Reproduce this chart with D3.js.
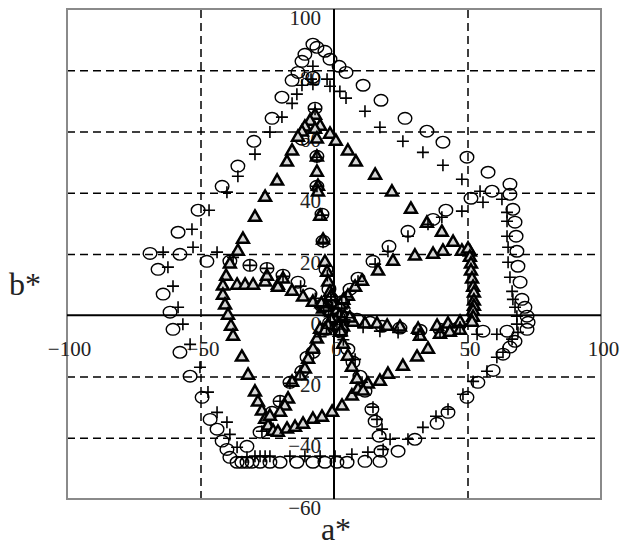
<!DOCTYPE html>
<html>
<head>
<meta charset="utf-8">
<script src="https://cdn.jsdelivr.net/npm/d3@7"></script>
<style>
  html, body { margin: 0; padding: 0; background: #fff; }
  svg { display: block; }
</style>
</head>
<body>
<svg id="chart" width="622" height="550"></svg>
<script>
// a*, b* points
const circleData = [
  // outer boundary
  [-7.9, 88.5], [-6.4, 87.5], [-3.4, 86.2], [-10.9, 85.2], [-1.5, 83.6], [-12.0, 82.9], [1.9, 81.3], [4.5, 79.3],
  [-13.5, 79.3], [-15.7, 76.7], [-7.9, 77.7], [10.9, 75.1], [-19.5, 71.2], [17.6, 70.2], [-23.2, 64.3], [26.6, 64.3],
  [-30.0, 56.8], [34.8, 60.1], [-36.0, 48.7], [40.8, 56.5], [-41.9, 42.1], [49.8, 51.6], [-50.9, 34.3], [57.7, 46.7],
  [-58.4, 27.1], [65.9, 42.8], [-68.9, 20.2], [-57.7, 19.9], [-47.6, 17.6], [-65.9, 15.0], [-64.0, 6.9], [-61.4, 1.0],
  [-60.3, -4.6], [-57.7, -12.1], [-53.9, -19.9], [-49.4, -26.8], [-46.4, -34.0], [-43.8, -37.2], [-41.9, -41.1],
  [-40.1, -43.8], [-39.0, -46.4], [-36.3, -48.0], [-34.5, -48.0], [-32.6, -48.0], [-30.7, -48.0], [-27.7, -48.0],
  [-24.0, -48.0], [-20.2, -48.0], [-13.9, -48.0], [-7.9, -48.0], [-3.4, -48.0], [1.1, -48.0], [4.9, -48.0],
  [11.6, -47.7], [17.2, -47.7], [17.6, -44.4], [24.0, -44.4], [30.3, -40.5], [38.6, -35.3], [42.7, -31.7],
  [49.8, -26.8], [53.9, -21.9], [59.6, -18.0], [63.3, -12.7], [65.9, -10.4], [67.8, -8.5], [64.8, -5.2],
  [72.3, -4.6], [72.7, -2.3], [72.3, -0.3], [71.5, 2.6], [70.4, 5.2], [69.7, 10.8], [68.9, 16.0], [68.5, 20.9],
  [68.2, 25.8], [67.8, 30.4], [67.0, 34.6], [65.9, 39.5], [59.2, 40.5], [55.8, -5.2],
  // hue lines
  [-7.1, 67.6], [-12.0, 57.5], [-6.4, 51.9], [-6.4, 42.1], [-4.5, 33.0], [-4.1, 24.2], [-3.0, 15.0], [-1.9, 8.5],
  [-39.0, 17.7], [-31.5, 16.3], [-25.1, 15.3], [-19.1, 13.1], [-13.5, 10.8], [-9.0, 6.9], [-4.5, 3.0],
  [6.0, 8.5], [9.0, 12.1], [14.6, 17.6], [20.6, 22.5], [27.7, 27.4], [37.1, 31.3], [41.9, 34.3], [51.3, 38.2],
  [3.5, -0.5], [8.6, -1.3], [13.5, -2.3], [18.0, -3.6], [24.7, -4.2], [32.2, -4.9], [39.7, -4.6], [46.4, -4.2],
  [2.5, -5.5], [5.2, -11.1], [7.1, -15.3], [9.7, -19.9], [11.6, -24.8], [14.2, -30.7], [15.4, -34.6], [16.9, -39.5],
  [-3.5, -4.5], [-7.9, -12.1], [-10.1, -13.7], [-12.0, -18.3], [-16.5, -21.9], [-20.2, -28.1], [-23.2, -31.7],
  [-27.7, -38.2], [-32.6, -42.8],
  // near the origin
  [-0.6, 3.0], [-1.1, 5.5], [-2.3, 1.9], [-4.3, 3.4], [1.7, 2.5], [3.2, 4.5], [3.0, -0.5], [5.4, -0.8],
  [1.3, -2.7], [2.3, -5.0], [-1.7, -2.5], [-3.0, -4.6]
];

const plusData = [
  [-7.9, 81.3], [-8.6, 77.1], [-12.0, 75.1], [-7.9, 75.4], [-2.6, 77.1], [-1.5, 74.8], [2.2, 73.1], [4.5, 70.9],
  [-13.9, 72.2], [-15.7, 69.2], [11.6, 66.6], [-19.5, 64.7], [17.2, 61.4], [-24.0, 59.8], [25.8, 56.8],
  [-29.6, 52.6], [33.3, 53.2], [-36.0, 45.4], [40.8, 49.0], [-40.1, 40.2], [47.9, 44.4], [-46.8, 34.3],
  [54.7, 40.5], [-53.2, 28.1], [55.8, 36.9], [-64.0, 20.6], [-52.8, 22.2], [-43.8, 20.6], [-62.2, 15.7],
  [-60.3, 9.5], [-58.4, 2.6], [-56.6, -2.9], [-53.9, -9.5], [-50.2, -17.0], [-47.2, -25.1], [-43.8, -31.7],
  [-40.1, -34.9], [-39.0, -38.9], [-36.3, -43.1], [-32.6, -46.4], [-29.6, -46.0], [-27.7, -46.0], [-25.8, -46.0],
  [-24.0, -46.0], [-16.5, -46.0], [-10.9, -46.0], [-5.2, -46.0], [0.4, -46.0], [6.7, -45.4], [12.7, -44.7],
  [18.4, -43.8], [21.0, -40.5], [27.7, -40.5], [33.3, -36.6], [38.2, -33.0], [42.7, -30.7], [48.3, -25.8],
  [52.1, -21.6], [57.3, -18.3], [61.0, -13.7], [63.3, -12.1], [66.7, -7.8], [61.0, -6.2], [53.6, -6.2],
  [68.9, -5.6], [68.5, -2.9], [68.5, -0.3], [67.8, 2.6], [67.0, 5.2], [66.7, 7.8], [65.9, 12.4], [65.2, 17.3],
  [65.2, 22.2], [64.8, 25.8], [64.8, 30.7], [64.8, 33.6], [62.9, 37.9],
  // hue lines
  [47.9, 34.0], [40.4, 32.0], [35.2, 29.7], [27.7, 25.8], [20.2, 20.9], [15.4, 16.7], [9.0, 11.1], [4.5, 6.0],
  [-37.8, 18.9], [-31.5, 16.3], [-25.1, 15.3], [-19.1, 12.7], [-12.5, 9.5], [-7.0, 5.5],
  [4.0, -1.5], [10.9, -3.9], [17.2, -5.2], [24.0, -5.6], [31.5, -6.2], [39.7, -5.6], [47.2, -3.9],
  [3.5, -8.0], [7.9, -14.4], [10.5, -21.9], [14.6, -30.0], [16.1, -34.0], [18.0, -37.2],
  [-7.1, 67.3], [-6.4, 51.6], [-6.4, 42.1], [-4.5, 32.7], [-4.1, 23.8], [-2.5, 13.0], [-1.2, 6.0],
  [-5.0, -7.0], [-12.7, -18.6], [-16.5, -22.2], [-20.2, -28.1], [-27.0, -37.9],
  // near the origin
  [-0.5, 2.5], [-1.0, 5.0], [-2.0, 1.6], [-3.9, 3.1], [1.5, 2.1], [2.9, 4.1], [2.5, -0.4], [4.9, -0.8],
  [1.1, -2.3], [2.1, -4.5], [-1.4, -2.1], [-2.8, -4.2]
];

const triangleData = [
  // top
  [-7.1, 65.3], [-9.0, 63.3], [-5.2, 61.7], [-10.9, 61.4], [-7.1, 60.7], [-12.0, 59.8], [-1.5, 59.1], [-13.5, 58.1],
  [0.7, 56.8], [-6.4, 57.5], [-15.7, 53.6], [5.2, 53.6], [-17.6, 50.0], [8.2, 50.0], [-6.4, 51.6], [-6.4, 46.7],
  [-21.3, 43.8], [15.4, 45.7], [-6.0, 42.1], [-6.0, 40.2], [-5.2, 32.3], [-4.1, 24.5],
  // left side
  [-25.8, 38.5], [-29.6, 32.0], [-34.1, 24.8], [-36.0, 20.9], [-39.0, 16.7], [-40.4, 12.7], [-41.6, 9.5],
  [-36.3, 9.8], [-33.3, 9.8], [-30.3, 9.8], [-25.8, 10.8], [-21.0, 9.8], [-41.6, 6.5], [-40.8, 3.3], [-39.7, 0.0],
  [-38.6, -3.6], [-37.8, -6.9], [-34.5, -13.7], [-32.2, -19.6], [-29.6, -25.1], [-28.5, -28.4], [-27.0, -31.3],
  [-25.8, -34.0], [-24.7, -36.2], [-22.8, -37.9], [-21.0, -38.2],
  // bottom to right
  [-17.6, -37.2], [-14.6, -36.6], [-11.6, -35.6], [-7.9, -34.0], [-4.5, -33.3], [-0.7, -31.7], [3.0, -29.7],
  [6.7, -26.4], [9.0, -24.2], [12.7, -22.5], [17.2, -21.6], [20.2, -19.3], [25.8, -16.7], [31.1, -13.7],
  [35.2, -11.1],
  // right side
  [21.7, 40.2], [28.8, 34.6], [34.8, 30.0], [40.4, 27.1], [44.6, 23.8], [47.9, 20.9], [50.9, 20.6], [40.8, 20.9],
  [37.1, 19.9], [30.3, 19.3], [22.1, 17.6], [16.5, 14.4], [50.2, 21.6], [50.9, 18.9], [51.3, 16.7], [51.3, 14.4],
  [51.7, 11.8], [52.1, 9.1], [52.4, 7.2], [52.4, 4.6], [52.4, 2.9], [52.1, 1.3], [52.1, -0.7], [51.7, -2.3],
  [47.2, -2.3], [42.7, -2.9], [38.6, -3.6], [31.5, -4.6], [24.7, -3.9], [19.9, -3.6], [16.1, -2.9], [11.6, -2.9],
  [7.1, -2.3], [3.4, -3.9], [39.7, -6.2], [43.4, -5.6], [47.2, -4.9], [32.2, -6.9],
  // hue lines
  [3.4, 3.6], [5.2, 6.2], [7.9, 9.1], [10.5, 11.1],
  [-4.1, 2.0], [-7.9, 4.2], [-11.6, 5.9], [-15.7, 7.8], [-21.0, 9.1], [-25.1, 12.7], [-19.1, 11.8],
  [-3.4, 17.3], [-2.6, 14.0], [-2.2, 10.8], [-1.5, 7.5], [-0.7, 4.2],
  [-5.2, -4.6], [-6.4, -7.8], [-7.9, -11.1], [-9.7, -14.4], [-10.9, -17.6], [-12.7, -19.9], [-15.7, -21.9],
  [-17.2, -27.4], [-18.4, -29.7], [-20.2, -31.7], [-24.0, -33.0],
  [2.2, -5.6], [3.4, -9.5], [5.2, -13.4], [6.7, -17.0], [8.6, -20.9], [10.9, -24.8],
  // near the origin
  [0.5, -1.0], [-1.0, 0.8], [1.5, 1.0],
  [-0.4, 2.0], [-0.8, 4.0], [-1.2, 6.0], [-1.6, 1.2], [-3.1, 2.5], [-4.7, 3.7], [1.2, 1.6], [2.3, 3.3], [3.5, 4.9],
  [2.0, -0.3], [4.0, -0.6], [5.9, -0.9], [0.8, -1.8], [1.7, -3.6], [2.5, -5.4], [-1.1, -1.7], [-2.2, -3.4],
  [-3.3, -5.0]
];

const xTicks = [-100, -50, 0, 50, 100];
const yTicks = [-60, -40, -20, 0, 20, 40, 60, 80, 100];
const xGrid = [-50, 50];
const yGrid = [-40, -20, 20, 40, 60, 80];

const margin = { top: 9, right: 21, bottom: 51, left: 67 };
const width = 622 - margin.left - margin.right;
const height = 550 - margin.top - margin.bottom;
const font = "'Liberation Serif', 'Times New Roman', serif";

const svg = d3.select("#chart")
  .append("g")
  .attr("transform", `translate(${margin.left},${margin.top})`);

const xScale = d3.scaleLinear().domain([-100, 100]).range([0, width]);
const yScale = d3.scaleLinear().domain([-60, 100]).range([height, 0]);

// dashed grid
const gx = svg.append("g")
  .attr("transform", `translate(0,${height})`)
  .call(d3.axisBottom(xScale).tickValues(xGrid).tickSize(-height).tickFormat(""));
const gy = svg.append("g")
  .call(d3.axisLeft(yScale).tickValues(yGrid).tickSize(-width).tickFormat(""));
[gx, gy].forEach(g => {
  g.select(".domain").remove();
  g.selectAll("line")
    .attr("stroke", "#000")
    .attr("stroke-width", 1.5)
    .attr("stroke-dasharray", "8,5");
});

// frame
svg.append("rect")
  .attr("width", width)
  .attr("height", height)
  .attr("fill", "none")
  .attr("stroke", "#8a8a8a")
  .attr("stroke-width", 2);

// zero axes
svg.append("line")
  .attr("x1", 0).attr("x2", width)
  .attr("y1", yScale(0)).attr("y2", yScale(0))
  .attr("stroke", "#000").attr("stroke-width", 2);
svg.append("line")
  .attr("x1", xScale(0)).attr("x2", xScale(0))
  .attr("y1", 0).attr("y2", height)
  .attr("stroke", "#000").attr("stroke-width", 2);

// tick labels along the zero axes
const xAxis = svg.append("g")
  .attr("transform", `translate(0,${yScale(0)})`)
  .call(d3.axisBottom(xScale).tickValues(xTicks).tickSize(0));
xAxis.selectAll("text")
  .attr("y", 41).attr("dy", 0).attr("dx", 2);

const yAxis = svg.append("g")
  .attr("transform", `translate(${xScale(0)},0)`)
  .call(d3.axisLeft(yScale).tickValues(yTicks).tickSize(0));
yAxis.selectAll("text")
  .attr("x", -13).attr("dy", 0).attr("y", 15);

[xAxis, yAxis].forEach(g => {
  g.select(".domain").remove();
  g.selectAll("text")
    .attr("font-family", font)
    .attr("font-size", 21)
    .attr("fill", "#222");
});

// markers
svg.append("g").selectAll("ellipse")
  .data(circleData)
  .join("ellipse")
  .attr("cx", d => xScale(d[0]))
  .attr("cy", d => yScale(d[1]))
  .attr("rx", 6.8)
  .attr("ry", 5.8)
  .attr("fill", "none")
  .attr("stroke", "#000")
  .attr("stroke-width", 1.4);

const tri = d3.symbol().type(d3.symbolTriangle).size(60);
svg.append("g").selectAll("path")
  .data(triangleData)
  .join("path")
  .attr("transform", d => `translate(${xScale(d[0])},${yScale(d[1])})`)
  .attr("d", tri)
  .attr("fill", "#d6d6d6")
  .attr("stroke", "#000")
  .attr("stroke-width", 2.5)
  .attr("stroke-linejoin", "miter");

svg.append("g").selectAll("path")
  .data(plusData)
  .join("path")
  .attr("transform", d => `translate(${xScale(d[0])},${yScale(d[1])})`)
  .attr("d", "M-6,0H6M0,-6V6")
  .attr("fill", "none")
  .attr("stroke", "#000")
  .attr("stroke-width", 1.6);

// axis titles
svg.append("text")
  .attr("x", xScale(0) + 2)
  .attr("y", height + 41)
  .attr("text-anchor", "middle")
  .attr("font-family", font)
  .attr("font-size", 32)
  .attr("fill", "#222")
  .text("a*");

svg.append("text")
  .attr("x", 25 - margin.left)
  .attr("y", 295 - margin.top)
  .attr("text-anchor", "middle")
  .attr("font-family", font)
  .attr("font-size", 32)
  .attr("fill", "#222")
  .text("b*");
</script>
</body>
</html>
